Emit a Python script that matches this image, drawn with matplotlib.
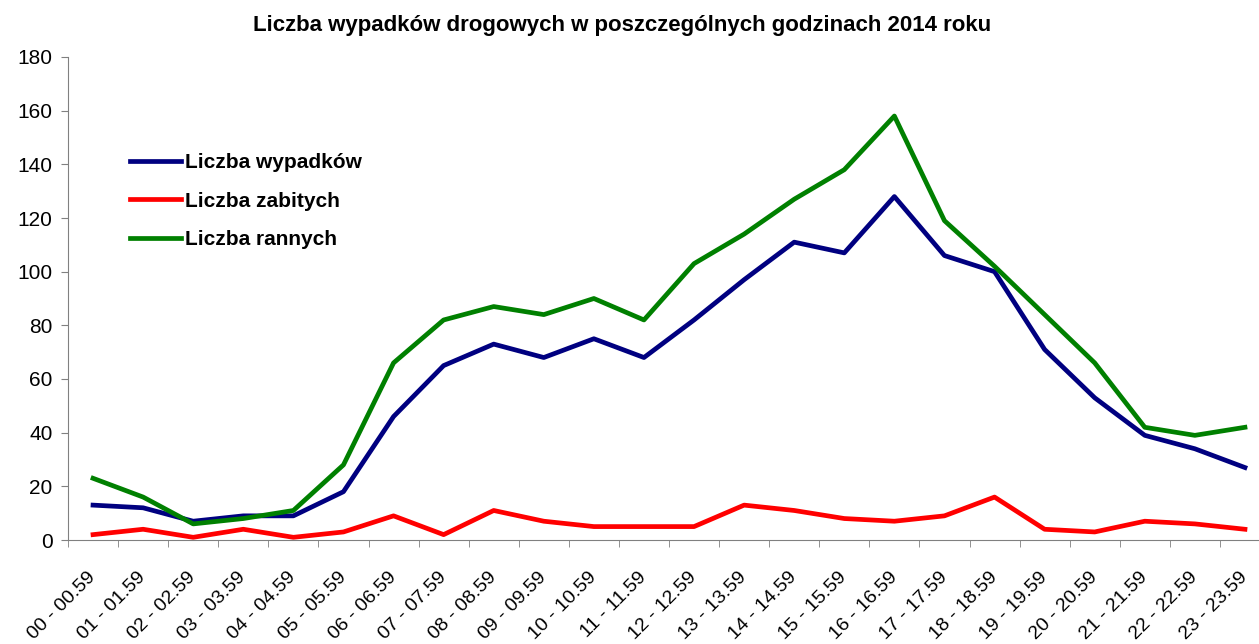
import numpy as np
import matplotlib.pyplot as plt
from matplotlib.ticker import FixedLocator
from matplotlib.transforms import ScaledTranslation

plt.rcParams["font.family"] = ["Liberation Sans", "DejaVu Sans"]

# godziny
hours = [f"{h:02d} - {h:02d}.59" for h in range(24)]

# dane
wypadki = [13, 12, 7, 9, 9, 18, 46, 65, 73, 68, 75, 68,
           82, 97, 111, 107, 128, 106, 100, 71, 53, 39, 34, 27]
zabici = [2, 4, 1, 4, 1, 3, 9, 2, 11, 7, 5, 5,
          5, 13, 11, 8, 7, 9, 16, 4, 3, 7, 6, 4]
ranni = [23, 16, 6, 8, 11, 28, 66, 82, 87, 84, 90, 82,
         103, 114, 127, 138, 158, 119, 102, 84, 66, 42, 39, 42]

W, H = 1259, 644
fig = plt.figure(figsize=(W / 100, H / 100), dpi=100)
ax = fig.add_axes([68 / W, 1 - 540 / H, 1202 / W, (540 - 57) / H])

x = np.arange(len(hours))
ax.plot(x, wypadki, color="#000080", lw=3.4, label="Liczba wypadków")
ax.plot(x, zabici, color="#FF0000", lw=3.4, label="Liczba zabitych")
ax.plot(x, ranni, color="#008000", lw=3.4, label="Liczba rannych")

ax.set_xlim(-0.5, len(hours) - 0.5)
ax.set_ylim(0, 180)
ax.set_yticks(range(0, 181, 20))

# etykiety w środku kategorii, kreski na granicach
ax.set_xticks(x)
ax.set_xticklabels(hours, rotation=45, ha="right", va="center",
                   rotation_mode="anchor", fontsize=14)
shift = ScaledTranslation(-14 / 100, 0, fig.dpi_scale_trans)
for lab in ax.get_xticklabels():
    lab.set_transform(lab.get_transform() + shift)
ax.xaxis.set_minor_locator(FixedLocator(np.arange(-0.5, len(hours), 1)))
ax.tick_params(axis="x", which="major", length=0, pad=25)
ax.tick_params(axis="x", which="minor", length=5, direction="out", color="#808080")
ax.tick_params(axis="y", length=5, direction="out", color="#808080", labelsize=15, pad=6)

for s in ["top", "right"]:
    ax.spines[s].set_visible(False)
for s in ["left", "bottom"]:
    ax.spines[s].set_color("#808080")

fig.text(622 / W, 1 - 25 / H,
         "Liczba wypadków drogowych w poszczególnych godzinach 2014 roku",
         ha="center", va="center", fontsize=16, fontweight="bold")

ax.legend(loc="upper left", bbox_to_anchor=(130 / W, 1 - 153 / H),
          bbox_transform=fig.transFigure, frameon=False, borderpad=0,
          borderaxespad=0, prop={"weight": "bold", "size": 15},
          handlelength=2.45, handletextpad=0.2, labelspacing=0.94)

fig.savefig("out.png", dpi=100)
